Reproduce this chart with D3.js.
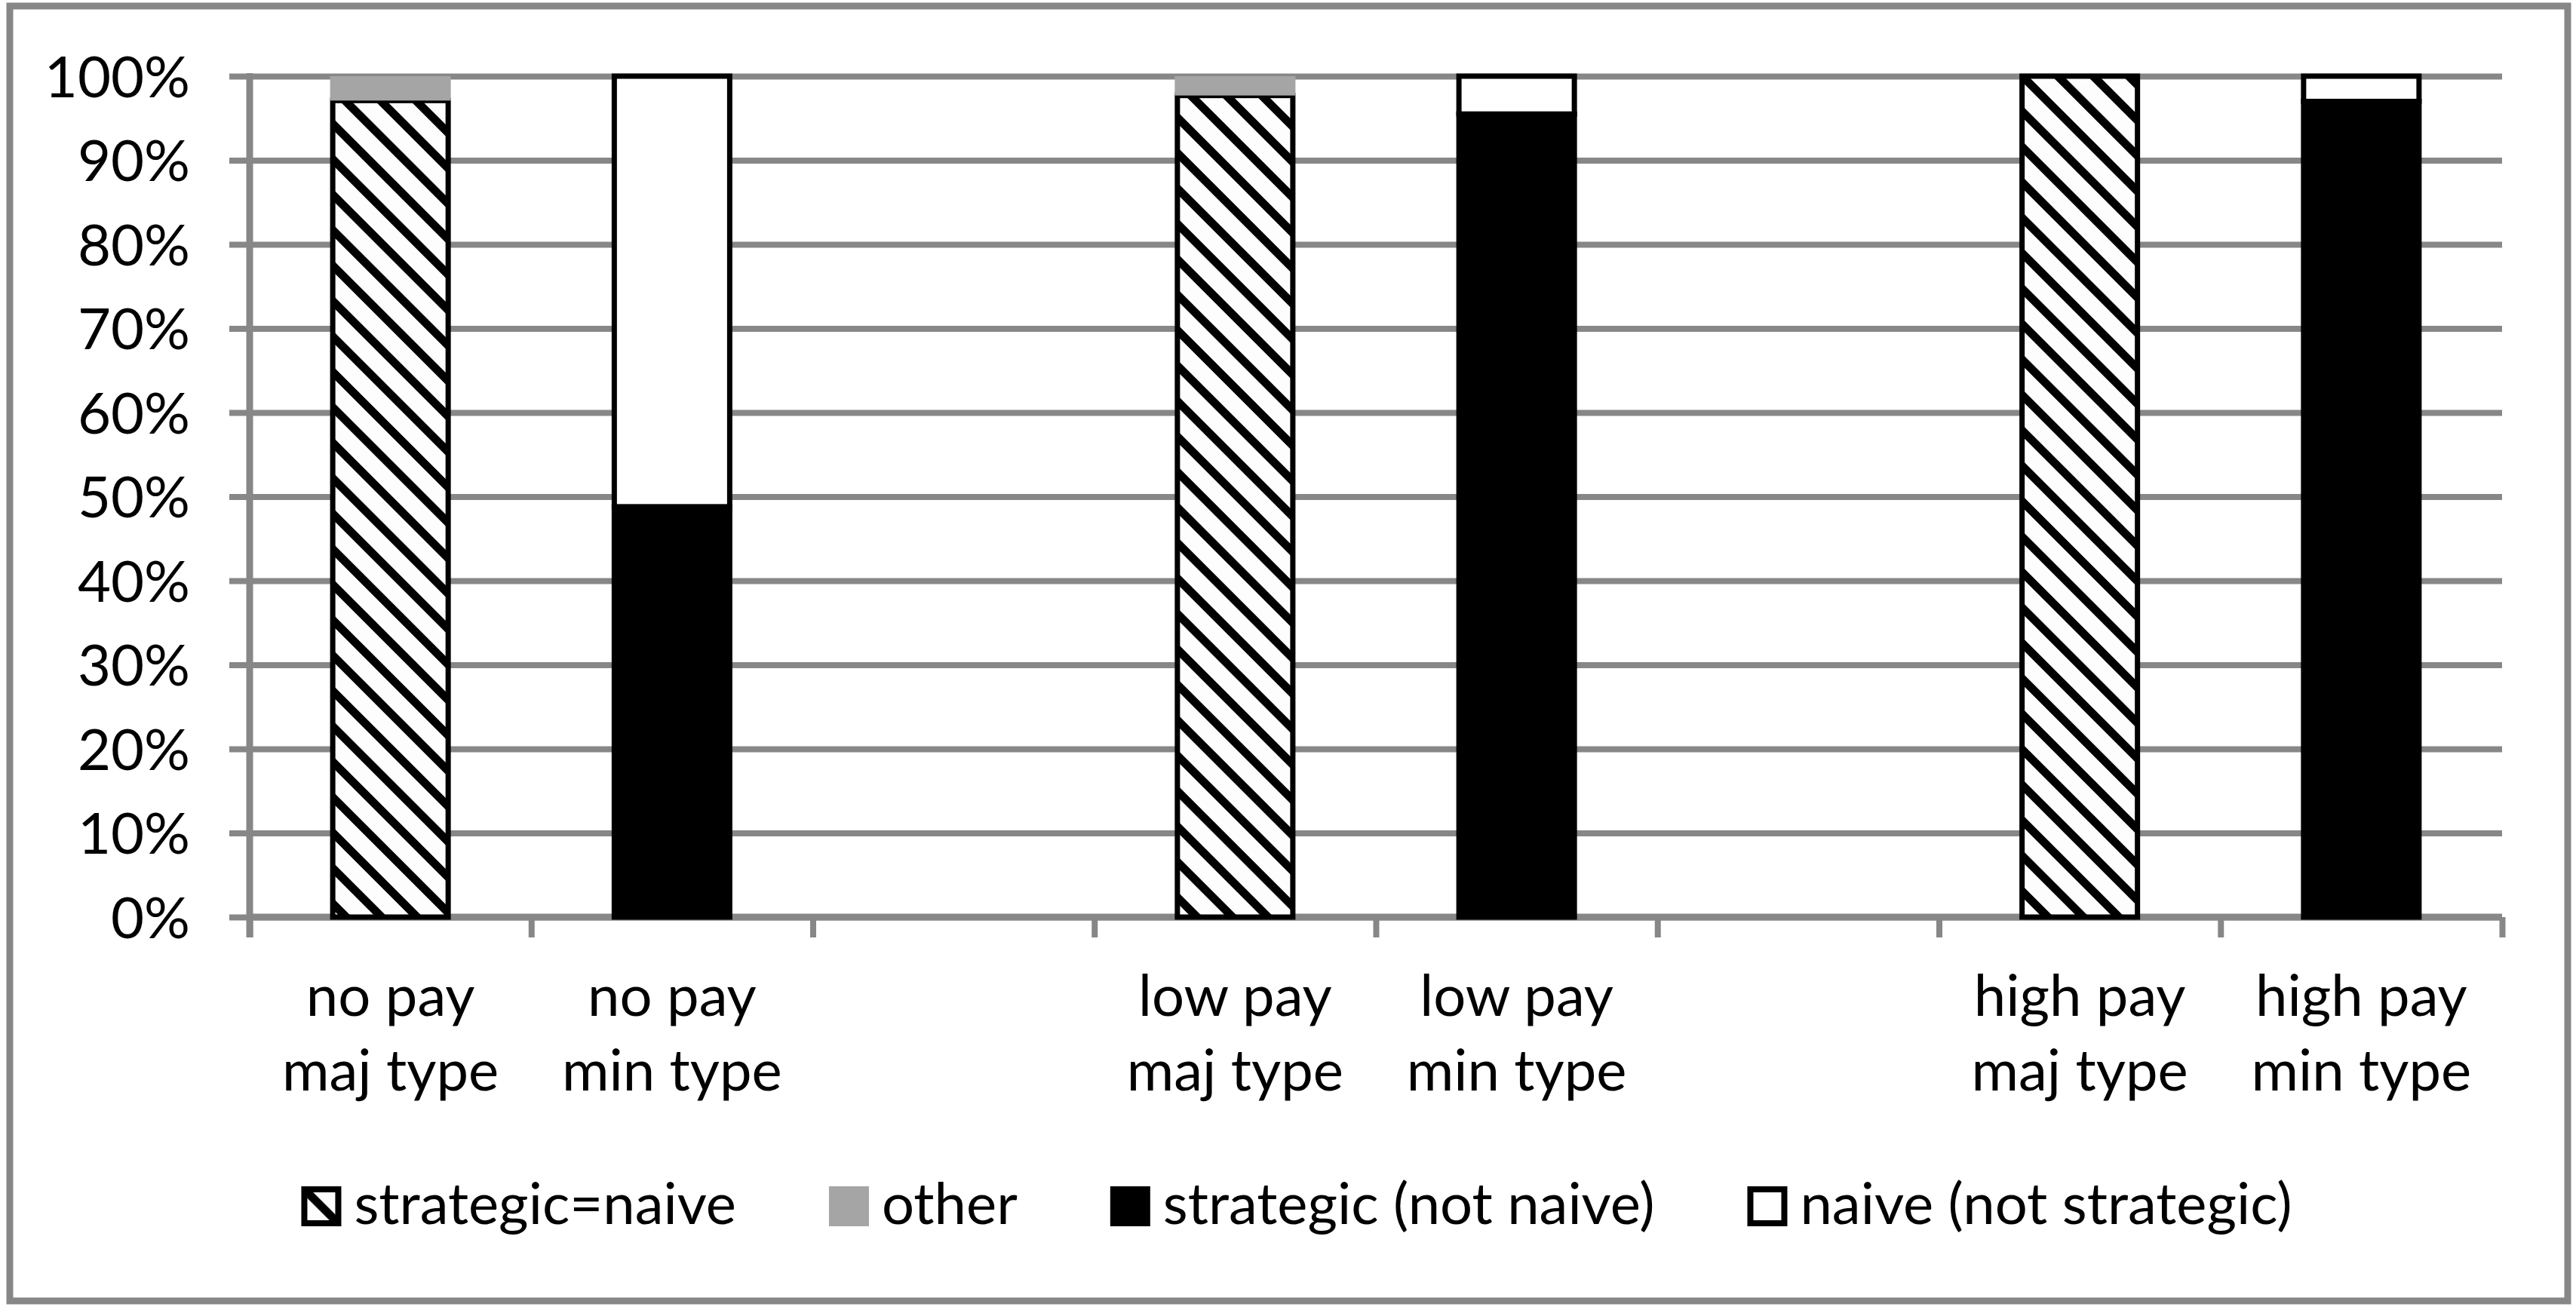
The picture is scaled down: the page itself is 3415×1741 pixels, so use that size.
<!DOCTYPE html>
<html>
<head>
<meta charset="utf-8">
<script src="https://cdn.jsdelivr.net/npm/d3@7"></script>
<style>
  body { margin: 0; background: #fff; }
  text { font-family: Lato, "Open Sans", sans-serif; fill: #000; }
</style>
</head>
<body>
<script>
// categories ("|" splits the two label lines, "" = empty slot)
var categories = ["no pay|maj type", "no pay|min type", "", "low pay|maj type", "low pay|min type", "", "high pay|maj type", "high pay|min type"];

// shares in percent
var strategicNaive    = [97.1, 0, 0, 97.7, 0, 0, 100, 0];
var other             = [2.9, 0, 0, 2.3, 0, 0, 0, 0];
var strategicNotNaive = [0, 48.8, 0, 0, 95.5, 0, 0, 97.0];
var naiveNotStrategic = [0, 51.2, 0, 0, 4.5, 0, 0, 3.0];

var seriesNames = ["strategic=naive", "other", "strategic (not naive)", "naive (not strategic)"];
var yTicks = [0, 10, 20, 30, 40, 50, 60, 70, 80, 90, 100];

var W = 3415, H = 1741;
var margin = {top: 101, left: 331};
var plotW = 2986, plotH = 1115;
var grey = "#878787";

var svg = d3.select("body").append("svg")
    .attr("width", W)
    .attr("height", H);

// hatch pattern
var defs = svg.append("defs");
var pat = defs.append("pattern")
    .attr("id", "hatch")
    .attr("patternUnits", "userSpaceOnUse")
    .attr("width", 47)
    .attr("height", 47);
pat.append("rect").attr("width", 47).attr("height", 47).attr("fill", "#fdfdfd");
pat.append("path")
    .attr("d", "M-6,-6 L53,53 M-6,41 L6,53 M41,-6 L53,6")
    .attr("stroke", "#000")
    .attr("stroke-width", 11);

var fills = ["url(#hatch)", "#a5a5a5", "#000", "#fff"];
var strokes = ["#000", "none", "#000", "#000"];

// outer frame
svg.append("rect")
    .attr("x", 13).attr("y", 8)
    .attr("width", 3391).attr("height", 1717)
    .attr("fill", "#fff")
    .attr("stroke", grey)
    .attr("stroke-width", 9);

var g = svg.append("g")
    .attr("transform", "translate(" + margin.left + "," + margin.top + ")");

var y = d3.scaleLinear().domain([0, 100]).range([plotH, 0]);
var x = d3.scaleBand()
    .domain(d3.range(categories.length))
    .range([0, plotW])
    .paddingInner(0.59)
    .paddingOuter(0.295);
var xEdge = d3.scaleLinear().domain([0, categories.length]).range([0, plotW]);

// gridlines
g.append("g")
    .attr("class", "grid")
    .call(d3.axisLeft(y).tickValues(yTicks).tickSize(-plotW).tickFormat(""))
    .call(function(s) { s.select(".domain").remove(); })
    .selectAll("line")
    .attr("stroke", grey)
    .attr("stroke-width", 8);

// y axis
var yAxis = g.append("g")
    .call(d3.axisLeft(y).tickValues(yTicks).tickSize(27).tickPadding(52)
        .tickFormat(function(d) { return d + "%"; }));
yAxis.select(".domain").remove();
yAxis.selectAll("line").attr("stroke", grey).attr("stroke-width", 8);
yAxis.selectAll("text")
    .attr("font-size", 76)
    .attr("dy", "0.36em")
    .style("font-family", "Lato, sans-serif");
yAxis.append("line")
    .attr("x1", 0).attr("x2", 0)
    .attr("y1", -4).attr("y2", plotH + 27)
    .attr("stroke", grey)
    .attr("stroke-width", 9);

// x axis (ticks between categories)
var xAxis = g.append("g")
    .attr("transform", "translate(0," + plotH + ")")
    .call(d3.axisBottom(xEdge).tickValues(d3.range(0, categories.length + 1)).tickSize(27).tickFormat(""));
xAxis.select(".domain").remove();
xAxis.selectAll("line").attr("stroke", grey).attr("stroke-width", 8);
xAxis.append("line")
    .attr("x1", 0).attr("x2", plotW)
    .attr("y1", 0).attr("y2", 0)
    .attr("stroke", grey)
    .attr("stroke-width", 9);

// stacked bars
var table = categories.map(function(c, i) {
  return {
    i: i,
    "strategic=naive": strategicNaive[i],
    "other": other[i],
    "strategic (not naive)": strategicNotNaive[i],
    "naive (not strategic)": naiveNotStrategic[i]
  };
});
var stacked = d3.stack().keys(seriesNames)(table);

g.selectAll(".series")
    .data(stacked)
    .enter().append("g")
    .attr("class", "series")
    .attr("fill", function(d, i) { return fills[i]; })
    .attr("stroke", function(d, i) { return strokes[i]; })
    .attr("stroke-width", 7)
    .selectAll("rect")
    .data(function(d) { return d.filter(function(p) { return p[1] - p[0] > 0; }); })
    .enter().append("rect")
    .attr("x", function(d) { return x(d.data.i) - (this.parentNode.getAttribute("stroke") === "none" ? 3.5 : 0); })
    .attr("width", function(d) { return x.bandwidth() + (this.parentNode.getAttribute("stroke") === "none" ? 7 : 0); })
    .attr("y", function(d) { return y(d[1]); })
    .attr("height", function(d) { return y(d[0]) - y(d[1]); });

// category labels
var labels = g.append("g")
    .selectAll("text")
    .data(categories.map(function(c, i) { return {i: i, lines: c ? c.split("|") : []}; }))
    .enter().append("text")
    .attr("text-anchor", "middle")
    .attr("font-size", 76)
    .attr("x", function(d) { return x(d.i) + x.bandwidth() / 2; })
    .attr("y", plotH + 131);
labels.selectAll("tspan")
    .data(function(d) { return d.lines; })
    .enter().append("tspan")
    .attr("x", function() { var p = d3.select(this.parentNode).datum(); return x(p.i) + x.bandwidth() / 2; })
    .attr("dy", function(d, j) { return j === 0 ? 0 : 99; })
    .text(function(d) { return d; });

// legend
var legend = svg.append("g");
var box = 53, gapIn = 17, gapOut = 123;
var cx = 0;
seriesNames.forEach(function(name, i) {
  var item = legend.append("g").attr("transform", "translate(" + cx + ",0)");
  item.append("rect")
      .attr("x", i === 1 ? 0 : 4).attr("y", i === 1 ? 0 : 4)
      .attr("width", i === 1 ? box : box - 8)
      .attr("height", i === 1 ? box : box - 8)
      .attr("fill", fills[i])
      .attr("stroke", strokes[i])
      .attr("stroke-width", 8);
  var t = item.append("text")
      .attr("x", box + gapIn)
      .attr("y", 50)
      .attr("font-size", 76)
      .text(name);
  cx += box + gapIn + t.node().getComputedTextLength() + gapOut;
});
var legendW = cx - gapOut;
legend.attr("transform", "translate(" + (1719 - legendW / 2) + ",1573)");
</script>
</body>
</html>
